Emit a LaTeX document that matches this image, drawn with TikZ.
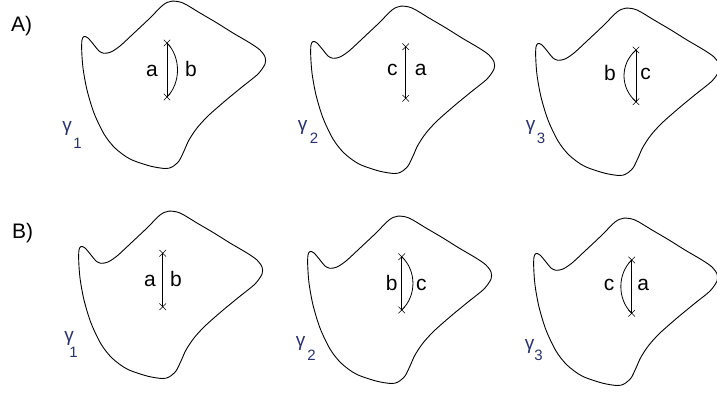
\documentclass[tikz,border=0pt]{standalone}
\usepackage{fontspec}
\setmainfont{Liberation Sans}
\definecolor{gcol}{RGB}{40,50,110}
\tikzset{
  outline/.style={draw=black, line width=0.9pt, line join=round},
  seg/.style={draw=black, line width=0.8pt},
  crossmark/.style={draw=black, line width=0.5pt},
  lbl/.style={inner sep=0pt, anchor=base, font=\fontsize{21}{23}\selectfont},
  gam/.style={inner sep=0pt, text=gcol, font=\fontsize{19}{21}\selectfont},
  gsub/.style={inner sep=0pt, text=gcol, font=\fontsize{15}{17}\selectfont},
  panel/.style={inner sep=0pt, anchor=base west, font=\fontsize{21}{23}\selectfont}
}
\newcommand{\myblob}[2]{%
  \draw[outline, shift={(#1,#2)}] plot[smooth cycle, tension=0.5] coordinates {
    (81.7,50) (82,40) (84,36.5) (88,38) (94,45) (99,51) (104,53.3) (111,52)
    (120,46) (133,34) (150,18) (163,5) (171.7,1.2) (183,3) (200,13) (217,23)
    (233,33) (250,43) (260,50) (265,57) (265,64) (258,74) (242,87) (225,101)
    (208,116) (197,128) (189,140) (184,151) (179,161) (172,167) (165,168.5)
    (150,166) (130,159) (115,148) (104,134) (94,113) (87,90) (83,68)};}
\newcommand{\mycross}[1]{%
  \draw[crossmark] ([shift={(-3.3,-3.3)}]#1) -- ([shift={(3.3,3.3)}]#1)
                   ([shift={(-3.3,3.3)}]#1) -- ([shift={(3.3,-3.3)}]#1);}
\begin{document}
\begin{tikzpicture}[x=1pt, y=-1pt]
\useasboundingbox (0,0) rectangle (717,393);

% panel labels
\node[panel] (labA) at (11,31.7) {A)};
\node[panel] (labB) at (12,238.5) {B)};

% outlines
\myblob{0}{0}
\myblob{229}{5}
\myblob{454}{7}
\myblob{-3}{210}
\myblob{226}{215}
\myblob{452}{217}

% ---- A1
\coordinate (a1t) at (167,43);
\coordinate (a1b) at (167,97);
\draw[seg] (a1t) -- (a1b);
\draw[seg] (a1t) .. controls +(14,14) and +(14,-14) .. (a1b);
\mycross{a1t}\mycross{a1b}
\node[lbl] (a1l) at (152,76.7) {a};
\node[lbl] (a1r) at (191,76.7) {b};
\node[gam] (a1g) at (67,128.5) {γ};
\node[gsub] (a1s) at (77.5,143) {1};

% ---- A2
\coordinate (a2t) at (405.7,46.7);
\coordinate (a2b) at (405.7,98.3);
\draw[seg] (a2t) -- (a2b);
\mycross{a2t}\mycross{a2b}
\node[lbl] (a2l) at (392.4,75.8) {c};
\node[lbl] (a2r) at (420.8,75.8) {a};
\node[gam] (a2g) at (302.5,127) {γ};
\node[gsub] (a2s) at (314,138.3) {2};

% ---- A3
\coordinate (a3t) at (636,50);
\coordinate (a3b) at (636,101.7);
\draw[seg] (a3t) -- (a3b);
\draw[seg] (a3t) .. controls +(-16,14) and +(-16,-14) .. (a3b);
\mycross{a3t}\mycross{a3b}
\node[lbl] (a3l) at (610,81) {b};
\node[lbl] (a3r) at (645.7,80) {c};
\node[gam] (a3g) at (530.5,127.5) {γ};
\node[gsub] (a3s) at (541,138.5) {3};

% ---- B1
\coordinate (b1t) at (162.7,253.3);
\coordinate (b1b) at (162.7,306.7);
\draw[seg] (b1t) -- (b1b);
\mycross{b1t}\mycross{b1b}
\node[lbl] (b1l) at (150,286.7) {a};
\node[lbl] (b1r) at (176,286.7) {b};
\node[gam] (b1g) at (69,338) {γ};
\node[gsub] (b1s) at (73.5,352.3) {1};

% ---- B2
\coordinate (b2t) at (401.7,256.7);
\coordinate (b2b) at (401.7,310);
\draw[seg] (b2t) -- (b2b);
\draw[seg] (b2t) .. controls +(15,14) and +(15,-14) .. (b2b);
\mycross{b2t}\mycross{b2b}
\node[lbl] (b2l) at (391.7,290) {b};
\node[lbl] (b2r) at (421.3,290) {c};
\node[gam] (b2g) at (300.5,343.5) {γ};
\node[gsub] (b2s) at (311.5,355.5) {2};

% ---- B3
\coordinate (b3t) at (631.7,260);
\coordinate (b3b) at (631.7,313.3);
\draw[seg] (b3t) -- (b3b);
\draw[seg] (b3t) .. controls +(-14.5,14) and +(-14.5,-14) .. (b3b);
\mycross{b3t}\mycross{b3b}
\node[lbl] (b3l) at (609,290) {c};
\node[lbl] (b3r) at (643.3,290) {a};
\node[gam] (b3g) at (529.5,346) {γ};
\node[gsub] (b3s) at (538.5,355.5) {3};
\end{tikzpicture}
\end{document}
